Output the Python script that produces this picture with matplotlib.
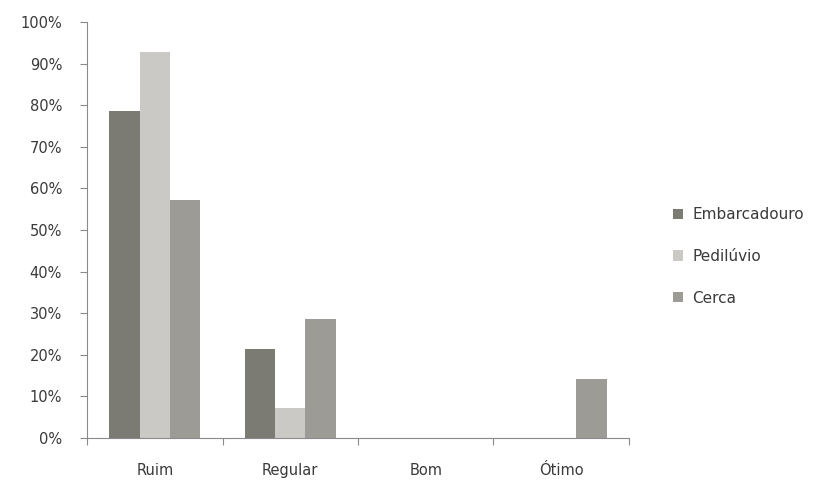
import matplotlib
matplotlib.use("Agg")
import matplotlib.pyplot as plt
import numpy as np
from matplotlib.ticker import FuncFormatter, MultipleLocator

# Avaliação das estruturas (% das propriedades)
categorias = ["Ruim", "Regular", "Bom", "Ótimo"]
embarcadouro = [78.6, 21.4, 0.0, 0.0]
pediluvio = [92.9, 7.1, 0.0, 0.0]
cerca = [57.1, 28.6, 0.0, 14.3]

series = [("Embarcadouro", embarcadouro, "#7b7b74"),
          ("Pedilúvio", pediluvio, "#cbc9c5"),
          ("Cerca", cerca, "#9c9b96")]

fig = plt.figure(figsize=(8.39, 4.82), dpi=100)
ax = fig.add_axes([0.1037, 0.0913, 0.646, 0.863])

x = np.arange(len(categorias))
largura = 0.225
for i, (nome, valores, cor) in enumerate(series):
    ax.bar(x + (i - 1) * largura, valores, largura, color=cor, label=nome,
           linewidth=0)

ax.set_xlim(-0.5, len(categorias) - 0.5)
ax.set_ylim(0, 100)
ax.yaxis.set_major_locator(MultipleLocator(10))
ax.yaxis.set_major_formatter(FuncFormatter(lambda v, p: f"{v:.0f}%"))

# marcas do eixo x nas divisas entre categorias
ax.set_xticks(np.arange(-0.5, len(categorias), 1.0))
ax.set_xticklabels([])
ax.set_xticks(x, minor=True)
ax.set_xticklabels(categorias, minor=True)
ax.tick_params(axis="x", which="minor", length=0, pad=18)
ax.tick_params(axis="x", which="major", length=5, color="#8a8a8a")
ax.tick_params(axis="y", length=5, color="#8a8a8a", pad=13)
ax.tick_params(labelsize=10.5, labelcolor="#3a3a3a", which="both")

for lado in ["top", "right"]:
    ax.spines[lado].set_visible(False)
for lado in ["left", "bottom"]:
    ax.spines[lado].set_color("#8a8a8a")

fig.legend(loc="center left", bbox_to_anchor=(0.786, 0.468), frameon=False,
           fontsize=11, handlelength=0.65, handleheight=0.65, labelspacing=1.75,
           handletextpad=0.6, labelcolor="#3a3a3a")

fig.savefig("out.png", dpi=100)
